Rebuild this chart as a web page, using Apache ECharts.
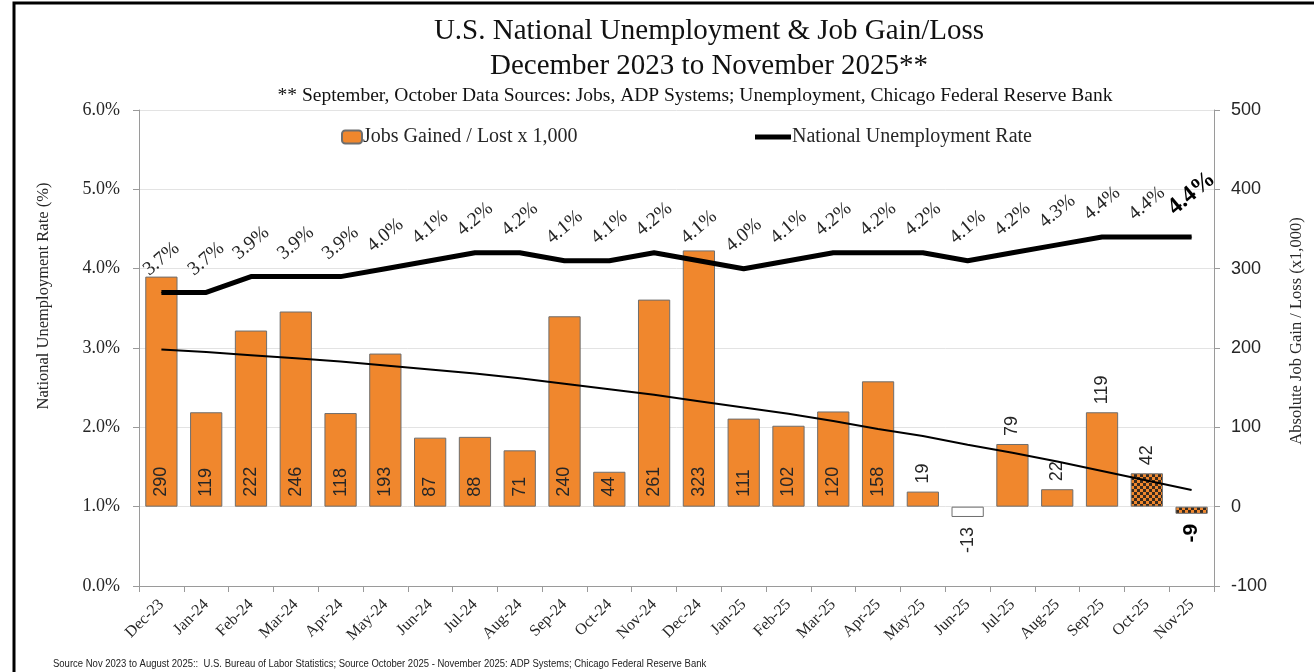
<!DOCTYPE html>
<html>
<head>
<meta charset="utf-8">
<script src="https://cdn.jsdelivr.net/npm/echarts@6/dist/echarts.min.js"></script>
<style>
  html, body { margin: 0; padding: 0; background: #fff; }
  #chart { width: 1314px; height: 672px; }
</style>
</head>
<body>
<div id="chart"></div>
<script>
// Monthly categories
const categories = ['Dec-23','Jan-24','Feb-24','Mar-24','Apr-24','May-24','Jun-24','Jul-24','Aug-24','Sep-24','Oct-24','Nov-24',
                    'Dec-24','Jan-25','Feb-25','Mar-25','Apr-25','May-25','Jun-25','Jul-25','Aug-25','Sep-25','Oct-25','Nov-25'];
// Jobs gained / lost (thousands)
const jobs = [290,119,222,246,118,193,87,88,71,240,44,261,323,111,102,120,158,19,-13,79,22,119,42,-9];
// National unemployment rate (%)
const rate = [3.7,3.7,3.9,3.9,3.9,4.0,4.1,4.2,4.2,4.1,4.1,4.2,4.1,4.0,4.1,4.2,4.2,4.2,4.1,4.2,4.3,4.4,4.4,4.4];
// Polynomial trend of job gains (thousands)
const jobsTrend = [198,195,191,187,183,178,173,168,162,155,148,141,133,125,117,108,98,89,78,68,57,45,33,21];
// Axis ranges
const rateAxis = { min: 0, max: 6, interval: 1 };
const jobsAxis = { min: -100, max: 500, interval: 100 };

const ORANGE = '#F0872D';
const SERIF = '"Liberation Serif", "DejaVu Serif", serif';
const SANS = '"Liberation Sans", Arial, sans-serif';
const TEXT = '#262626';

// ADP-sourced months get a checkered fill
function checkerCanvas() {
  const c = document.createElement('canvas');
  c.width = 6; c.height = 6;
  const g = c.getContext('2d');
  g.fillStyle = ORANGE; g.fillRect(0, 0, 6, 6);
  g.fillStyle = '#3a2b1e';
  g.fillRect(0, 0, 3, 3); g.fillRect(3, 3, 3, 3);
  return c;
}
const checker = checkerCanvas();

const barData = jobs.map((v, i) => {
  const item = { value: v };
  if (i === 18) item.itemStyle = { color: '#ffffff' };
  if (i >= 22) item.itemStyle = { color: { image: checker, repeat: 'repeat' } };
  if (i >= 17) {
    item.label = v >= 0
      ? { position: 'top', align: 'left', distance: 8 }
      : { position: 'bottom', align: 'right', distance: 10 };
  }
  if (i === 23) {
    Object.assign(item.label, { fontWeight: 'bold', fontSize: 21, color: '#000' });
  }
  return item;
});

const rateData = rate.map((v, i) => {
  const item = { value: v };
  if (i === rate.length - 1) {
    item.label = { fontWeight: 'bold', fontSize: 24, color: '#000', distance: 43 };
  }
  return item;
});

const chart = echarts.init(document.getElementById('chart'), null, { renderer: 'canvas' });
chart.setOption({
  backgroundColor: '#fff',
  animation: false,
  title: [
    {
      text: 'U.S. National Unemployment & Job Gain/Loss\nDecember 2023 to November 2025**',
      left: 704, top: 9, textAlign: 'center',
      textStyle: { fontFamily: SERIF, fontSize: 29, fontWeight: 'normal', color: '#111', lineHeight: 35 }
    },
    {
      text: '** September, October Data Sources: Jobs, ADP Systems; Unemployment, Chicago Federal Reserve Bank',
      left: 690, top: 81, textAlign: 'center',
      textStyle: { fontFamily: SERIF, fontSize: 19.5, fontWeight: 'normal', color: '#111' }
    }
  ],
  legend: [
    {
      data: ['Jobs Gained / Lost x 1,000'], left: 336, top: 122,
      itemWidth: 20, itemHeight: 13, itemGap: 4,
      textStyle: { fontFamily: SERIF, fontSize: 20, color: TEXT, padding: [0, 0, 0, -4] }
    },
    {
      data: [{ name: 'National Unemployment Rate', icon: 'rect' }], left: 750, top: 122,
      itemWidth: 36, itemHeight: 5, itemGap: 4,
      textStyle: { fontFamily: SERIF, fontSize: 20, color: TEXT, padding: [0, 0, 0, -4] }
    }
  ],
  grid: { left: 139, right: 100, top: 110, bottom: 86, containLabel: false },
  xAxis: {
    type: 'category',
    data: categories,
    boundaryGap: true,
    axisLine: { show: true, lineStyle: { color: '#9a9a9a', width: 1 } },
    axisTick: { show: true, length: 6, lineStyle: { color: '#9a9a9a' } },
    axisLabel: { rotate: 45, margin: 16, fontFamily: SERIF, fontSize: 16, color: TEXT, interval: 0 }
  },
  yAxis: [
    {
      type: 'value', position: 'left',
      min: rateAxis.min, max: rateAxis.max, interval: rateAxis.interval,
      axisLine: { show: true, lineStyle: { color: '#9a9a9a' } },
      axisTick: { show: true, length: 6, lineStyle: { color: '#9a9a9a' } },
      splitLine: { show: true, lineStyle: { color: '#e3e3e3', width: 1 } },
      axisLabel: { formatter: v => v.toFixed(1) + '%', margin: 19, fontFamily: SERIF, fontSize: 18, color: TEXT }
    },
    {
      type: 'value', position: 'right',
      min: jobsAxis.min, max: jobsAxis.max, interval: jobsAxis.interval,
      axisLine: { show: true, lineStyle: { color: '#9a9a9a' } },
      axisTick: { show: true, length: 6, lineStyle: { color: '#9a9a9a' } },
      splitLine: { show: false },
      axisLabel: { margin: 17, fontFamily: SANS, fontSize: 18, color: TEXT }
    }
  ],
  graphic: [
    { type: 'rect', shape: { x: 14, y: 3, width: 1400, height: 800 },
      style: { fill: 'none', stroke: '#000', lineWidth: 3 }, z: 100, silent: true },
    { type: 'text', x: 44, y: 296, rotation: Math.PI / 2,
      style: { text: 'National Unemployment Rate (%)', font: '16.5px ' + SERIF, fill: TEXT, align: 'center', verticalAlign: 'middle' } },
    { type: 'text', x: 1297, y: 331, rotation: Math.PI / 2,
      style: { text: 'Absolute Job Gain / Loss (x1,000)', font: '16.5px ' + SERIF, fill: TEXT, align: 'center', verticalAlign: 'middle' } },
    { type: 'text', x: 53, y: 664, scaleX: 0.95,
      style: { text: 'Source Nov 2023 to August 2025::  U.S. Bureau of Labor Statistics; Source October 2025 - November 2025: ADP Systems; Chicago Federal Reserve Bank',
               font: '10px "Liberation Sans Narrow", "Liberation Sans", Arial, sans-serif', fill: '#222', align: 'left', verticalAlign: 'middle' } }
  ],
  series: [
    {
      name: 'Jobs Gained / Lost x 1,000',
      type: 'bar',
      yAxisIndex: 1,
      data: barData,
      barCategoryGap: '28%',
      itemStyle: { color: ORANGE, borderColor: '#6e6e6e', borderWidth: 1 },
      label: {
        show: true, position: 'insideBottom', distance: 10, rotate: 90,
        align: 'left', verticalAlign: 'middle',
        fontFamily: SANS, fontSize: 18, color: TEXT
      },
      z: 2
    },
    {
      name: 'National Unemployment Rate',
      type: 'line',
      yAxisIndex: 0,
      data: rateData,
      symbol: 'circle', symbolSize: 1, showSymbol: true,
      itemStyle: { color: '#000' },
      lineStyle: { color: '#000', width: 5 },
      label: {
        show: true, position: 'top', distance: 33, rotate: 40,
        align: 'center', verticalAlign: 'middle',
        formatter: p => p.value.toFixed(1) + '%',
        fontFamily: SERIF, fontSize: 19.5, color: TEXT
      },
      z: 4
    },
    {
      name: 'Trend',
      type: 'line',
      yAxisIndex: 1,
      data: jobsTrend,
      symbol: 'none',
      lineStyle: { color: '#000', width: 2 },
      silent: true,
      z: 3
    }
  ]
});
</script>
</body>
</html>
